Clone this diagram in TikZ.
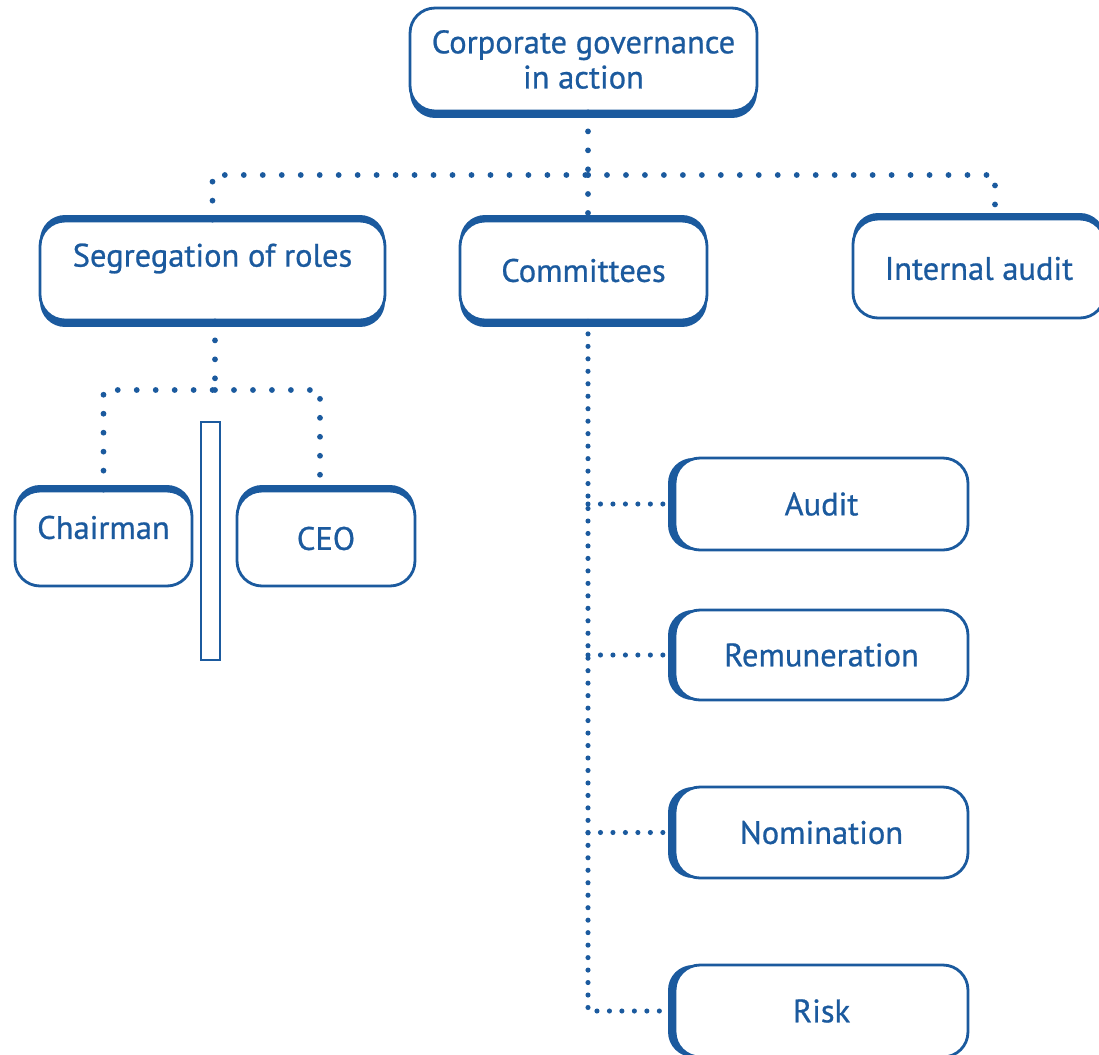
\documentclass[tikz,border=0pt]{standalone}
\usepackage{fontspec}
\setmainfont{PT Sans}[FakeBold=0.7]
\definecolor{cgblue}{HTML}{1B5A9E}
\usetikzlibrary{shadows}

\tikzset{
  cgbox/.style={rectangle, rounded corners=0.5cm, draw=cgblue, line width=1.6pt, fill=white,
    text=cgblue, align=center, inner sep=0pt, font=\fontsize{18.5}{20}\selectfont},
  thickdown/.style={general shadow={fill=cgblue, shadow yshift=-0.14cm}},
  thickup/.style={general shadow={fill=cgblue, shadow yshift=0.12cm}},
  thickleft/.style={general shadow={fill=cgblue, shadow xshift=-0.14cm}},
  dots/.style={draw=cgblue, line width=3.3pt, line cap=round, dash pattern=on 0pt off 10.8pt},
  densedots/.style={draw=cgblue, line width=2.9pt, line cap=round, dash pattern=on 0pt off 7.1pt}
}

\begin{document}
\begin{tikzpicture}[x=0.02cm, y=-0.02cm]
      \useasboundingbox (0,0) rectangle (1099,1055);
      \node[cgbox, thickdown, minimum width=6.94cm, minimum height=2.06cm] (top) at (583.5,59.5) {Corporate governance\\in action};
      \node[cgbox, thickup, thickdown, minimum width=6.9cm, minimum height=1.98cm] (seg) at (212.5,270.5) {\raisebox{0.24cm}[\height][\depth]{Segregation of roles}};
      \node[cgbox, thickup, thickdown, minimum width=4.94cm, minimum height=1.98cm] (comm) at (583.5,270.5) {Committees};
      \node[cgbox, thickup, minimum width=5.04cm, minimum height=1.98cm] (intaudit) at (979,268.5) {Internal audit};
      \node[cgbox, thickup, minimum width=3.54cm, minimum height=1.9cm] (chair) at (103.5,538.5) {\raisebox{0.22cm}[\height][\depth]{Chairman}};
      \node[cgbox, thickup, minimum width=3.56cm, minimum height=1.9cm] (ceo) at (326,538.5) {CEO};
      \node[rectangle, draw=cgblue, line width=1.4pt, fill=white, inner sep=0pt, minimum width=0.38cm, minimum height=4.76cm] (wall) at (210.5,541) {};
      \node[cgbox, thickleft, minimum width=5.86cm, minimum height=1.84cm] (audit) at (821.5,504) {Audit};
      \node[cgbox, thickleft, minimum width=5.86cm, minimum height=1.8cm] (remun) at (821.5,655) {Remuneration};
      \node[cgbox, thickleft, minimum width=5.86cm, minimum height=1.82cm] (nomin) at (821.5,832.5) {Nomination};
      \node[cgbox, thickleft, minimum width=5.86cm, minimum height=1.84cm] (risk) at (821.5,1011) {Risk};
      % top level links
      \coordinate (split) at (588,175);
      \draw[dots] (top.south -| split) -- (split);
      \draw[dots] (seg.north) |- (split);
      \draw[dots] (split) -| ([xshift=0.32cm]intaudit.north);
      \draw[dots] (split) -- (split |- comm.north);
      % segregation of roles
      \coordinate (split2) at (215,390);
      \draw[dots] (seg.south -| split2) -- (split2);
      \draw[dots] (chair.north) |- (split2);
      \draw[dots] (split2) -| ([xshift=-0.12cm]ceo.north);
      % committees
      \draw[densedots] (split |- comm.south) |- (risk.west);
      \draw[densedots] (split |- audit.west) -- (audit.west);
      \draw[densedots] (split |- remun.west) -- (remun.west);
      \draw[densedots] (split |- nomin.west) -- (nomin.west);
    \end{tikzpicture}
\end{document}
